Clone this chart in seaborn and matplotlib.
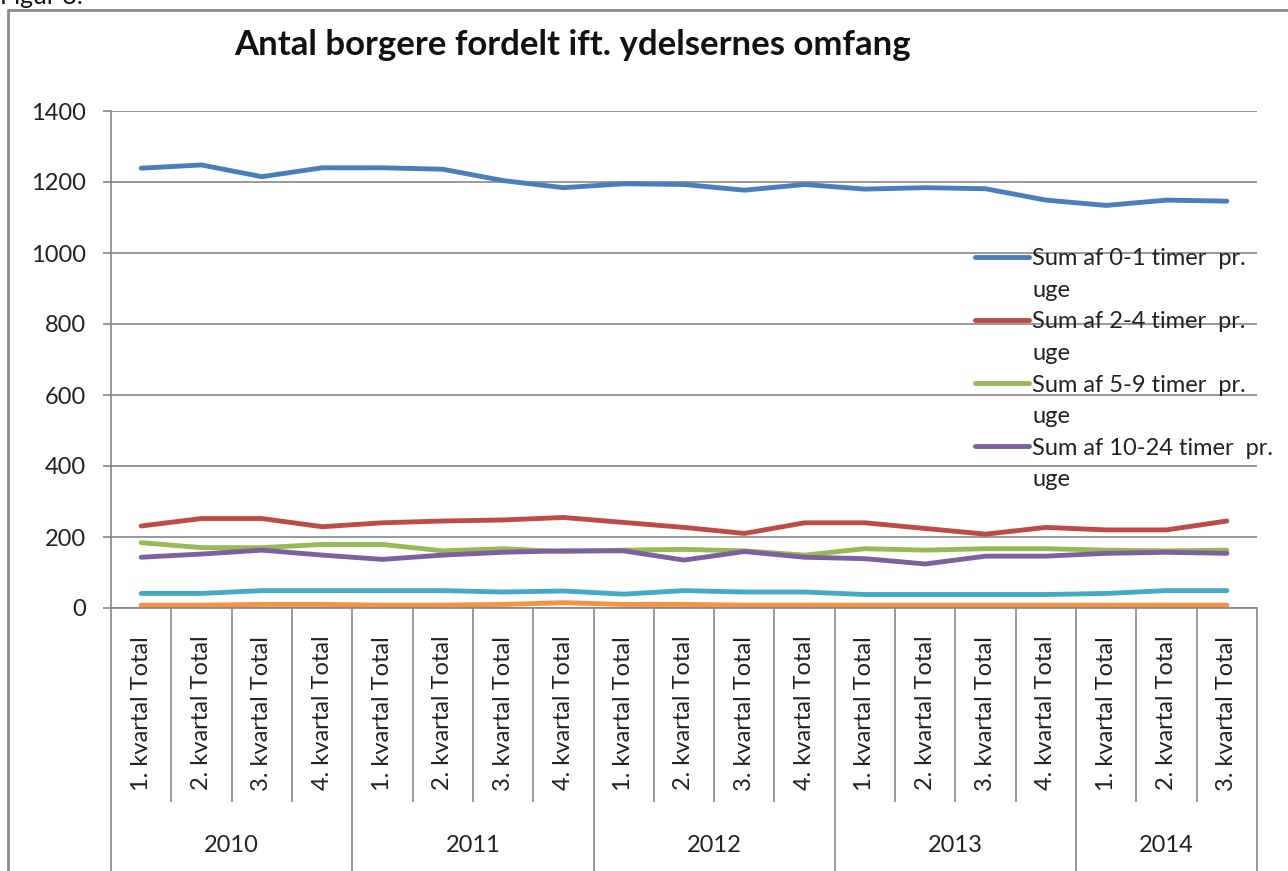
import numpy as np
import pandas as pd
import matplotlib
matplotlib.use("Agg")
import matplotlib.pyplot as plt
from matplotlib.lines import Line2D
import seaborn as sns

# data
years = ["2010", "2011", "2012", "2013", "2014"]
quarters_per_year = [4, 4, 4, 4, 3]
quarter_labels = ["1. kvartal Total", "2. kvartal Total", "3. kvartal Total", "4. kvartal Total"]

series_names = [
    "Sum af 0-1 timer  pr. uge",
    "Sum af 2-4 timer  pr. uge",
    "Sum af 5-9 timer  pr. uge",
    "Sum af 10-24 timer  pr. uge",
    "Sum af 25-36 timer  pr. uge",
    "Sum af 37+ timer  pr. uge",
]
legend_labels = [
    ("Sum af 0-1 timer  pr.", "uge"),
    ("Sum af 2-4 timer  pr.", "uge"),
    ("Sum af 5-9 timer  pr.", "uge"),
    ("Sum af 10-24 timer  pr.", "uge"),
]

timer_0_1 = [1239, 1248, 1215, 1240, 1240, 1236, 1204, 1184, 1195, 1193,
             1177, 1193, 1180, 1184, 1181, 1149, 1134, 1149, 1146]
timer_2_4 = [231, 252, 252, 229, 240, 245, 248, 255, 241, 227,
             210, 240, 240, 224, 208, 227, 220, 220, 245]
timer_5_9 = [184, 170, 170, 179, 179, 161, 167, 159, 163, 165,
             161, 149, 167, 163, 167, 167, 163, 161, 163]
timer_10_24 = [143, 152, 163, 149, 137, 149, 157, 161, 161, 135,
               159, 143, 139, 124, 146, 146, 154, 157, 154]
timer_25_36 = [41, 41, 49, 49, 49, 49, 45, 48, 39, 49,
               45, 45, 38, 38, 38, 38, 41, 49, 49]
timer_37 = [8, 8, 10, 10, 8, 8, 10, 15, 10, 10,
            8, 8, 8, 8, 8, 8, 8, 8, 8]

colors = ["#4A7EBB", "#BE4B48", "#98B954", "#7D60A0", "#46AAC5", "#F69240"]

# long-form table
cat_labels = []
for n in quarters_per_year:
    cat_labels += quarter_labels[:n]
n_cat = len(cat_labels)
all_values = [timer_0_1, timer_2_4, timer_5_9, timer_10_24, timer_25_36, timer_37]
rows = []
for name, vals in zip(series_names, all_values):
    for i, v in enumerate(vals):
        rows.append({"pos": i, "serie": name, "antal": v})
df = pd.DataFrame(rows)

sns.set_theme(style="white")
plt.rcParams["font.family"] = ["Lato", "DejaVu Sans"]
fs = 17

W, H = 1288, 871
fig = plt.figure(figsize=(W / 100, H / 100), dpi=100)
ax = fig.add_axes([111 / W, 1 - 608 / H, (1257 - 111) / W, (608 - 111) / H])

grid_col = "#878787"
sns.lineplot(data=df, x="pos", y="antal", hue="serie", hue_order=series_names,
             palette=colors, linewidth=3.5, ax=ax, legend=False)

ax.set_xlim(-0.5, n_cat - 0.5)
ax.set_ylim(0, 1400)
ax.set_yticks(np.arange(0, 1401, 200))
ax.yaxis.grid(True, color=grid_col, linewidth=1.2)
ax.set_axisbelow(True)
ax.tick_params(axis="y", labelsize=fs, length=6, width=1.2, color=grid_col,
               pad=12, left=True, labelcolor="#222222")
ax.set_xlabel("")
ax.set_ylabel("")
for s in ["top", "right"]:
    ax.spines[s].set_visible(False)
for s in ["left", "bottom"]:
    ax.spines[s].set_color(grid_col)
    ax.spines[s].set_linewidth(1.2)

ax.set_xticks(range(n_cat))
ax.set_xticklabels(cat_labels, rotation=90, va="top", fontsize=fs, color="#222222")
ax.tick_params(axis="x", length=0, pad=20)

# category / year separators below the axis
xt = ax.get_xaxis_transform()
inner_bottom = -(802 - 608) / (608 - 111)
outer_bottom = -(871 - 608) / (608 - 111)
year_edges = np.concatenate([[0], np.cumsum(quarters_per_year)]) - 0.5
cat_edges = [e for e in np.arange(n_cat + 1) - 0.5 if e not in year_edges]
ax.vlines(cat_edges, inner_bottom, 0, transform=xt, colors=grid_col,
          linewidth=1.2, clip_on=False)
ax.vlines(year_edges, outer_bottom, 0, transform=xt, colors=grid_col,
          linewidth=1.2, clip_on=False)
year_y = -(845 - 608) / (608 - 111)
for yr, a, b in zip(years, year_edges[:-1], year_edges[1:]):
    ax.text((a + b) / 2, year_y, yr, transform=xt, ha="center", va="center",
            fontsize=fs, color="#222222")

# legend: first four series, label wrapped onto a second line
lines = ax.get_lines()
handles, labels = [], []
for ln, (l1, l2) in zip(lines[:4], legend_labels):
    handles.append(Line2D([], [], color=ln.get_color(), linewidth=3.5))
    labels.append(l1)
    handles.append(Line2D([], [], color="none"))
    labels.append(l2)
leg = ax.legend(handles, labels, loc="upper left",
                bbox_to_anchor=((975 - 111) / (1257 - 111), (608 - 248) / (608 - 111)),
                frameon=False, fontsize=fs, handlelength=2.3, handletextpad=0.12,
                labelspacing=0.45, borderpad=0, borderaxespad=0)
for t in leg.get_texts():
    t.set_color("#222222")

# title and outer chart frame
fig.text(572 / W, 1 - 45 / H, "Antal borgere fordelt ift. ydelsernes omfang",
         ha="center", va="center", fontsize=25, fontweight="bold", color="#111111")
fig.text(0.0, 1 - 4 / H, "Figur 3.", ha="left", va="baseline", fontsize=18,
         color="#111111")
fig.add_artist(Line2D([8 / W, 8 / W], [0, 1 - 10 / H], transform=fig.transFigure,
                      color="#8a8a8a", linewidth=2))
fig.add_artist(Line2D([8 / W, 1], [1 - 10 / H, 1 - 10 / H], transform=fig.transFigure,
                      color="#8a8a8a", linewidth=2))

fig.savefig("out.png", dpi=100)
